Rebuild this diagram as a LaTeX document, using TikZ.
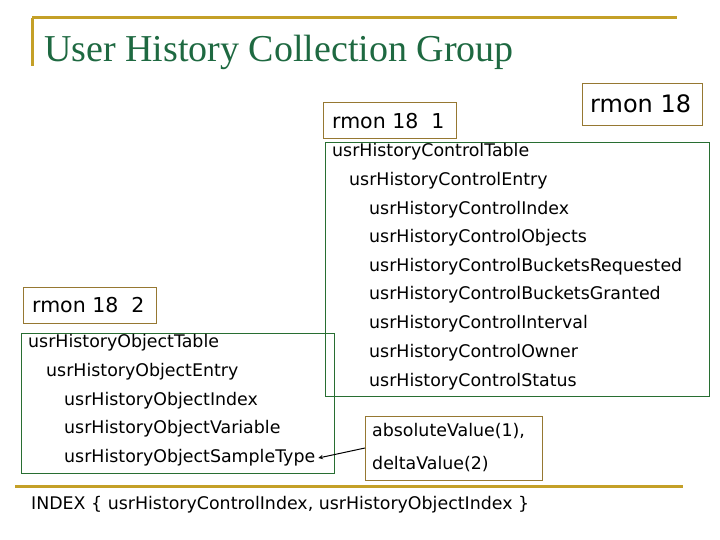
\documentclass[tikz,border=0pt]{standalone}
\usepackage{fontspec}
\setmainfont{DejaVu Sans}
\newfontfamily\titlefont{Liberation Serif}
\definecolor{gold}{RGB}{196,160,40}
\definecolor{tgreen}{RGB}{30,105,65}
\definecolor{bgreen}{RGB}{40,110,50}
\definecolor{bgold}{RGB}{150,120,50}
\begin{document}
\begin{tikzpicture}[x=1pt,y=-1pt,
  txt/.style={anchor=west,inner sep=0pt,font=\fontsize{17.4}{20}\selectfont},
  rtxt/.style={anchor=west,inner sep=0pt,font=\fontsize{20.5}{24}\selectfont},
  goldbox/.style={draw=bgold,line width=0.8pt},
  greenbox/.style={draw=bgreen,line width=0.8pt}]
\useasboundingbox (0,0) rectangle (720,540);
\draw[gold,line width=3pt] (32,18) -- (677,18);
\draw[gold,line width=3pt] (32,18) -- (32,66);
\node[anchor=base west,inner sep=0pt,text=tgreen,font=\titlefont\fontsize{38}{44}\selectfont] (title) at (44,62) {User History Collection Group};
\draw[goldbox] (323,102) rectangle (456,138);
\node[rtxt] (r1) at (332,121) {rmon 18\ \ 1};
\draw[goldbox] (582,83) rectangle (702,125);
\node[txt,font=\fontsize{24}{28}\selectfont] (r0) at (590,104) {rmon 18};
\draw[greenbox] (325,142) rectangle (709,396);
\node[txt] (c1) at (332,152) {usrHistoryControlTable};
\node[txt] (c2) at (349,181) {usrHistoryControlEntry};
\node[txt] (c3) at (369,210) {usrHistoryControlIndex};
\node[txt] (c4) at (369,238) {usrHistoryControlObjects};
\node[txt] (c5) at (369,267) {usrHistoryControlBucketsRequested};
\node[txt] (c6) at (369,295) {usrHistoryControlBucketsGranted};
\node[txt] (c7) at (369,324) {usrHistoryControlInterval};
\node[txt] (c8) at (369,353) {usrHistoryControlOwner};
\node[txt] (c9) at (369,382) {usrHistoryControlStatus};
\draw[goldbox] (23,287) rectangle (156,323);
\node[rtxt] (r2) at (32,305) {rmon 18\ \ 2};
\draw[greenbox] (21,333) rectangle (334,473);
\node[txt] (o1) at (28,343) {usrHistoryObjectTable};
\node[txt] (o2) at (46,372) {usrHistoryObjectEntry};
\node[txt] (o3) at (64,401) {usrHistoryObjectIndex};
\node[txt] (o4) at (64,429) {usrHistoryObjectVariable};
\node[txt] (o5) at (64,458) {usrHistoryObjectSampleType};
\draw[goldbox] (365,416) rectangle (542,480);
\node[txt] (a1) at (372,431) {absoluteValue(1),};
\node[txt] (a2) at (372,464) {deltaValue(2)};
\coordinate (as) at (365,448);
\draw[-stealth,line width=1pt] (as) -- ([xshift=3pt]o5.east);
\draw[gold,line width=3pt] (15,486) -- (683,486);
\node[txt] (idx) at (31,505) {INDEX \{ usrHistoryControlIndex, usrHistoryObjectIndex \}};
\end{tikzpicture}
\end{document}
